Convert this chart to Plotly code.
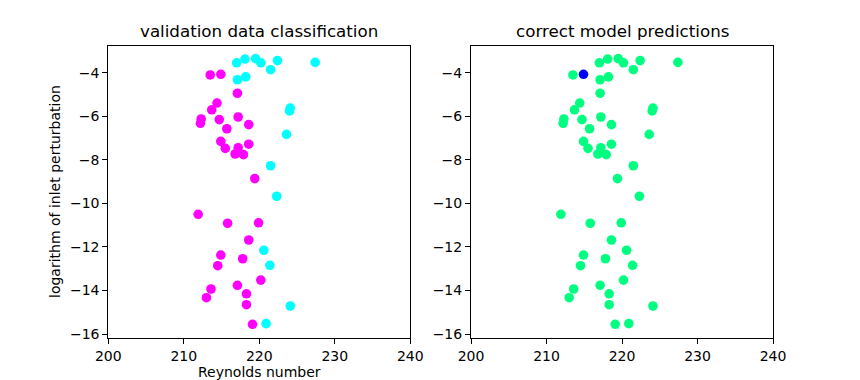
import plotly.graph_objects as go

# Reynolds number (x) and log perturbation (y) for each validation sample
re_cyan = [217.0, 218.1, 219.5, 220.2, 222.4, 221.5, 217.1, 218.2, 224.1, 224.0,
           223.6, 221.5, 222.3, 220.6, 221.4, 224.1, 220.9, 227.4]
lp_cyan = [-3.54, -3.37, -3.35, -3.54, -3.44, -3.86, -4.32, -4.19, -5.62, -5.75,
           -6.83, -8.27, -9.67, -12.15, -12.84, -14.71, -15.52, -3.52]

re_mag = [213.5, 214.9, 217.1, 214.4, 213.7, 212.3, 212.2, 214.7, 217.2, 218.6,
          215.7, 214.9, 215.5, 218.6, 217.2, 216.8, 217.9, 219.4, 211.9, 215.8,
          219.9, 218.6, 214.9, 214.5, 217.8, 220.2, 213.6, 213.0, 217.1, 218.3,
          218.3, 219.1]
lp_mag = [-4.10, -4.07, -4.94, -5.39, -5.70, -6.12, -6.32, -6.15, -6.03, -6.38,
          -6.57, -7.15, -7.47, -7.28, -7.44, -7.73, -7.76, -8.86, -10.50, -10.91,
          -10.89, -11.68, -12.37, -12.86, -12.54, -13.52, -13.93, -14.33, -13.76, -14.15,
          -14.65, -15.55]

# prediction correctness (1 = correct, 0 = wrong), in order cyan then magenta
correct = [1] * len(re_cyan) + [1] * len(re_mag)
correct[len(re_cyan) + 1] = 0

x_ticks = [200, 210, 220, 230, 240]
y_ticks = [-4, -6, -8, -10, -12, -14, -16]

CYAN = "#00ffff"
MAGENTA = "#ff00ff"
GREEN = "rgb(0,255,128)"
BLUE = "#0000ff"
MS = 9.6

# the page body has an 8px margin; build the figure so it fits the window after that offset
OFF = 8
W, H = 860 - OFF, 380 - OFF


def px(x):
    return (x - OFF) / W


def py(y):
    return 1 - (y - OFF) / H


fig = go.Figure()
fig.add_trace(go.Scatter(x=re_cyan, y=lp_cyan, mode="markers",
                         marker=dict(color=CYAN, size=MS), xaxis="x", yaxis="y"))
fig.add_trace(go.Scatter(x=re_mag, y=lp_mag, mode="markers",
                         marker=dict(color=MAGENTA, size=MS), xaxis="x", yaxis="y"))

all_re = re_cyan + re_mag
all_lp = lp_cyan + lp_mag
fig.add_trace(go.Scatter(x=all_re, y=all_lp, mode="markers",
                         marker=dict(color=[GREEN if c else BLUE for c in correct], size=MS),
                         xaxis="x2", yaxis="y2"))

axis_common = dict(showline=True, linecolor="black", linewidth=1, mirror=True,
                   ticks="outside", ticklen=5, tickcolor="black", tickwidth=1,
                   showgrid=False, zeroline=False, automargin=False,
                   tickfont=dict(family="DejaVu Sans", size=14, color="black"))

yd = [py(338), py(46)]
xd1 = [px(108.3), px(410.3)]
xd2 = [px(471.0), px(773.0)]
yr = [-16.18, -2.77]

fig.update_layout(
    template="none",
    width=W, height=H,
    margin=dict(l=0, r=0, t=0, b=0, pad=0),
    paper_bgcolor="white", plot_bgcolor="white",
    showlegend=False,
    xaxis=dict(domain=xd1, range=[200, 240], tickvals=x_ticks, anchor="y", **axis_common),
    yaxis=dict(domain=yd, range=yr, tickvals=y_ticks, anchor="x", **axis_common),
    xaxis2=dict(domain=xd2, range=[200, 240], tickvals=x_ticks, anchor="y2", **axis_common),
    yaxis2=dict(domain=yd, range=yr, tickvals=y_ticks, anchor="x2", **axis_common),
)

font_title = dict(family="DejaVu Sans", size=16.7, color="black")
font_lab = dict(family="DejaVu Sans", size=14, color="black")
anns = [
    dict(text="validation data classification", x=sum(xd1) / 2, y=py(31), font=font_title),
    dict(text="correct model predictions", x=sum(xd2) / 2, y=py(31), font=font_title),
    dict(text="Reynolds number", x=sum(xd1) / 2, y=py(372), font=font_lab),
]
for a in anns:
    fig.add_annotation(text=a["text"], x=a["x"], y=a["y"], xref="paper", yref="paper",
                       showarrow=False, font=a["font"], xanchor="center", yanchor="middle")
fig.add_annotation(text="logarithm of inlet perturbation", x=px(55), y=py(192),
                   xref="paper", yref="paper", showarrow=False, textangle=-90,
                   font=font_lab, xanchor="center", yanchor="middle")

fig.write_html("out.html")
